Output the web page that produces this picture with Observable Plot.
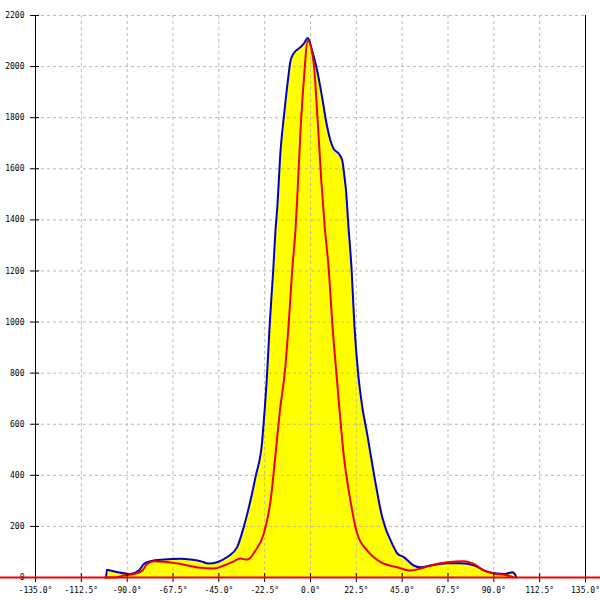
<!DOCTYPE html>
<html><head><meta charset="utf-8">
<script src="https://cdn.jsdelivr.net/npm/d3@7"></script>
<script src="https://cdn.jsdelivr.net/npm/@observablehq/plot@0.6"></script>
<style>body{margin:0;background:#fff}#chart svg{display:block}</style>
</head><body><div id="chart"></div>
<script>
const xTicks = [-135, -112.5, -90, -67.5, -45, -22.5, 0, 22.5, 45, 67.5, 90, 112.5, 135];
const yTicks = [0, 200, 400, 600, 800, 1000, 1200, 1400, 1600, 1800, 2000, 2200];

const blueAngle = [-100.3, -100, -98.2, -91.7, -88.4, -84.3, -81.8, -78.5, -72.0, -63.8, -58.9, -54.0, -49.9, -45.8, -40.9, -36.0, -32.7, -27.0, -23.7, -22.9, -21.3, -20.0, -18.3, -17.2, -16.3, -14.7, -13.1, -11.1, -9.8, -8.3, -4.9, -3.3, -1.3, 0.8, 3.3, 5.7, 7.9, 9.8, 11.4, 13.9, 15.6, 16.7, 17.5, 18.4, 20.2, 21.5, 23.4, 25.2, 27.8, 31.1, 35.2, 40.9, 42.6, 45.8, 50.7, 54.0, 59.0, 67.2, 73.6, 80.5, 85.4, 90.3, 95.8, 99.1, 100.7, 101.0];
const blueValue = [0, 30, 27, 17, 14, 27, 53, 64, 70, 73, 70, 64, 55, 60, 80, 119, 200, 393, 536, 614, 798, 994, 1202, 1358, 1450, 1671, 1802, 1945, 2023, 2051, 2076, 2090, 2112, 2063, 1984, 1880, 1776, 1710, 1678, 1659, 1632, 1567, 1510, 1400, 1202, 994, 798, 680, 563, 407, 236, 119, 94, 80, 47, 40, 47, 56, 56, 47, 27, 17, 14, 21, 8, 0];

const redAngle = [-101, -96, -91.7, -86.7, -82.6, -80.2, -76.9, -72.0, -63.8, -54.0, -47.5, -42.6, -38.5, -34.4, -31.1, -27.0, -22.9, -19.6, -17.2, -15.2, -12.3, -10.7, -9.0, -7.4, -6.6, -4.9, -3.3, -1.3, 1.6, 3.3, 5.3, 6.9, 9.0, 10.7, 12.6, 14.2, 16.3, 19.6, 22.9, 27.8, 34.4, 42.6, 49.1, 54.0, 58.9, 67.1, 75.3, 80.2, 85.1, 90.0, 96.6, 99.7];
const redValue = [0, 0, 8, 14, 27, 53, 64, 62, 53, 38, 35, 47, 60, 74, 70, 106, 172, 301, 480, 640, 830, 994, 1202, 1358, 1470, 1750, 1945, 2100, 2012, 1816, 1554, 1380, 1202, 994, 810, 660, 480, 301, 172, 106, 60, 40, 27, 35, 47, 60, 64, 53, 27, 16, 8, 0];

const blue = blueAngle.map((a, i) => ({angle: a, value: blueValue[i]}));
const red = redAngle.map((a, i) => ({angle: a, value: redValue[i]}));
const fmt = d => d.toFixed(1) + "\u00b0";

const chart = Plot.plot({
  width: 600,
  height: 600,
  marginLeft: 35,
  marginRight: 15,
  marginTop: 15,
  marginBottom: 23,
  x: {domain: [-135, 135]},
  y: {domain: [0, 2200]},
  style: {fontFamily: "'DejaVu Sans Mono', monospace", fontSize: "8px", background: "#fff", color: "#000"},
  marks: [
    Plot.areaY(blue, {x: "angle", y: "value", fill: "#ffff00", curve: "monotone-x"}),
    Plot.gridX(xTicks, {stroke: "#b8b8b8", strokeOpacity: 1, strokeDasharray: "3,3"}),
    Plot.gridY(yTicks, {stroke: "#b8b8b8", strokeOpacity: 1, strokeDasharray: "3,3"}),
    Plot.lineY(blue, {x: "angle", y: "value", stroke: "#0000cc", strokeWidth: 2, curve: "monotone-x"}),
    Plot.lineY(red, {x: "angle", y: "value", stroke: "#ee0000", strokeWidth: 2, curve: "monotone-x"}),
    Plot.ruleX([-135, 135], {stroke: "#000", strokeWidth: 1}),
    Plot.axisX(xTicks, {tickSize: 9, dy: -4, tickFormat: () => "", label: null, stroke: "#000"}),
    Plot.axisX(xTicks, {tickSize: 0, tickPadding: 10, tickFormat: fmt, label: null, fill: "#000"}),
    Plot.axisY(yTicks, {tickSize: 9, dx: 4, tickFormat: () => "", label: null, stroke: "#000"}),
    Plot.axisY(yTicks, {tickSize: 0, tickPadding: 11, tickFormat: d => String(d), label: null, fill: "#000"}),
    Plot.ruleY([0], {stroke: "#ee0000", strokeWidth: 2, insetLeft: -35, insetRight: -15})
  ]
});
document.getElementById("chart").appendChild(chart);
</script>
</body></html>
